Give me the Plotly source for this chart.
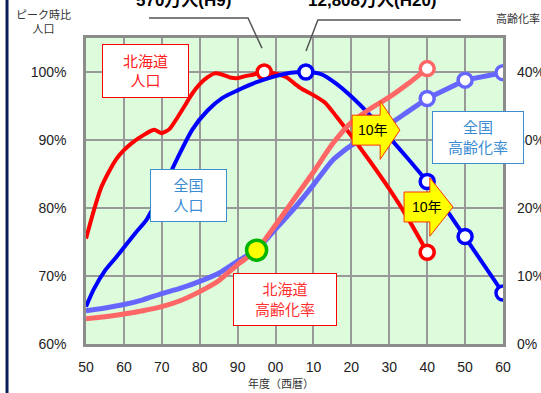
import plotly.graph_objects as go

# ---- data -------------------------------------------------------------
# Population relative to peak (%), Hokkaido
hk_pop_years = [1950, 1952, 1954, 1956, 1958, 1960, 1962, 1964, 1966, 1968,
                1970, 1972, 1974, 1976, 1978, 1980, 1982, 1984, 1986, 1988,
                1990, 1992, 1994, 1997, 1999, 2001, 2003, 2005, 2007, 2010,
                2013, 2016, 2020, 2025, 2030, 2035, 2040]
hk_pop = [75.5, 79.5, 83.0, 85.3, 87.2, 88.5, 89.5, 90.3, 91.0, 91.5,
          91.0, 91.6, 93.2, 95.0, 96.8, 98.2, 99.2, 99.8, 99.6, 99.2,
          99.1, 99.4, 99.6, 100.0, 99.9, 99.6, 99.2, 98.3, 97.5, 96.6,
          95.5, 93.5, 90.6, 86.8, 82.8, 78.4, 73.5]
hk_pop_marked = [1997, 2040]

# Population relative to peak (%), Japan
jp_pop_years = [1950, 1952, 1955, 1958, 1960, 1963, 1966, 1970, 1974, 1978,
                1982, 1986, 1990, 1995, 2000, 2004, 2008, 2012, 2016, 2020,
                2025, 2030, 2035, 2040, 2050, 2060]
jp_pop = [65.5, 68.0, 70.8, 72.8, 74.2, 76.3, 78.3, 82.5, 87.2, 91.5,
          94.3, 96.2, 97.3, 98.5, 99.4, 99.9, 100.0, 99.7, 98.3, 96.4,
          93.6, 90.4, 87.2, 83.9, 75.8, 67.5]
jp_pop_marked = [2008, 2040, 2050, 2060]

# Aging rate (%), Hokkaido
hk_age_years = [1950, 1955, 1960, 1965, 1970, 1975, 1980, 1985, 1990, 1995,
                2000, 2005, 2010, 2015, 2020, 2025, 2030, 2035, 2040]
hk_age = [3.7, 4.0, 4.4, 4.9, 5.5, 6.4, 7.7, 9.3, 11.7, 13.8,
          17.5, 21.4, 25.3, 29.4, 32.6, 34.6, 36.3, 38.3, 40.5]
hk_age_marked = [2040]
cross_year = 1995

# Aging rate (%), Japan
jp_age_years = [1950, 1955, 1960, 1965, 1970, 1975, 1980, 1985, 1990, 1995,
                2000, 2005, 2010, 2015, 2020, 2025, 2030, 2035, 2040, 2050,
                2060]
jp_age = [4.9, 5.3, 5.8, 6.5, 7.4, 8.2, 9.2, 10.4, 12.2, 13.9,
          16.9, 20.0, 23.4, 27.0, 29.2, 30.6, 32.3, 34.2, 36.1, 38.8,
          39.9]
jp_age_marked = [2040, 2050, 2060]

x_ticks = list(range(1950, 2061, 10))
x_labels = ["50", "60", "70", "80", "90", "00", "10", "20", "30", "40", "50", "60"]
pop_ticks = [60, 70, 80, 90, 100]
age_ticks = [0, 10, 20, 30, 40]

RED = "#FF0000"
BLUE = "#0000FF"
PINK = "#FF6666"
LILAC = "#6666FF"
FONT = "Liberation Sans, Arial, Noto Sans CJK JP"


def pick(years, values, wanted):
    xs = [y for y in years if y in wanted]
    ys = [v for y, v in zip(years, values) if y in wanted]
    return xs, ys


def split(years, values, at):
    a = [(y, v) for y, v in zip(years, values) if y <= at]
    b = [(y, v) for y, v in zip(years, values) if y >= at]
    return [p[0] for p in a], [p[1] for p in a], [p[0] for p in b], [p[1] for p in b]


fig = go.Figure()


def add_series(years, values, color, width, axis, marked, tail_from=None):
    if tail_from is not None:
        xa, ya, xb, yb = split(years, values, tail_from)
        fig.add_trace(go.Scatter(x=xa, y=ya, mode="lines", yaxis=axis,
                                 line=dict(color=color, width=width, shape="spline", smoothing=0.6),
                                 hoverinfo="skip", showlegend=False))
        fig.add_trace(go.Scatter(x=xb, y=yb, mode="lines", yaxis=axis,
                                 line=dict(color=color, width=width),
                                 hoverinfo="skip", showlegend=False))
    else:
        fig.add_trace(go.Scatter(x=years, y=values, mode="lines", yaxis=axis,
                                 line=dict(color=color, width=width, shape="spline", smoothing=0.6),
                                 hoverinfo="skip", showlegend=False))
    mx, my = pick(years, values, marked)
    fig.add_trace(go.Scatter(x=mx, y=my, mode="markers", yaxis=axis,
                             marker=dict(size=14, color="white", line=dict(color=color, width=3.5)),
                             hoverinfo="skip", showlegend=False))


add_series(hk_pop_years, hk_pop, RED, 4, "y", hk_pop_marked)
add_series(jp_pop_years, jp_pop, BLUE, 4, "y", jp_pop_marked, tail_from=2040)
add_series(jp_age_years, jp_age, LILAC, 5, "y2", jp_age_marked, tail_from=2040)
add_series(hk_age_years, hk_age, PINK, 5, "y2", hk_age_marked)

cx, cy = pick(hk_age_years, hk_age, [cross_year])
fig.add_trace(go.Scatter(x=cx, y=cy, mode="markers", yaxis="y2",
                         marker=dict(size=20, color="#FFFF00", line=dict(color="#00B400", width=3.5)),
                         hoverinfo="skip", showlegend=False))

# ---- "10年" block arrows ---------------------------------------------------
def arrow_path(x0, xh, xt, yc, body, head):
    return (f"M {x0} {yc + body} L {xh} {yc + body} L {xh} {yc + head} L {xt} {yc} "
            f"L {xh} {yc - head} L {xh} {yc - body} L {x0} {yc - body} Z")


for (x0, xh, xt, yc, tx) in [(2020.2, 2027.6, 2032.8, 91.45, 2025.7),
                             (2033.9, 2040.7, 2046.8, 80.15, 2039.9)]:
    fig.add_shape(type="path", xref="x", yref="y",
                  path=arrow_path(x0, xh, xt, yc, 2.2, 4.3),
                  fillcolor="#FFFF00", line=dict(color="#FF3300", width=1), layer="above")
    fig.add_annotation(x=tx, y=yc, xref="x", yref="y", text="10年", showarrow=False,
                       font=dict(size=14, color="black", family=FONT))

# ---- labelled boxes ----------------------------------------------------------
boxes = [
    ("北海道<br>人口", 1965.7, 100.1, 85, 52, RED, "#FF2020"),
    ("全国<br>人口", 1977.0, 81.8, 75, 51, "#3C8CD2", "#3C8CD2"),
    ("全国<br>高齢化率", 2053.4, 90.4, 90, 51, "#3C8CD2", "#3C8CD2"),
    ("北海道<br>高齢化率", 2002.4, 66.6, 102, 51, RED, "#FF3030"),
]
for text, bx, by, w, h, border, color in boxes:
    fig.add_annotation(x=bx, y=by, xref="x", yref="y", text=text, showarrow=False,
                       width=w, height=h, bgcolor="white", bordercolor=border,
                       borderwidth=1, borderpad=0, align="center", valign="middle",
                       font=dict(size=15, color=color, family=FONT))

# ---- peak callouts -----------------------------------------------------------
fig.add_annotation(x=0.233, y=1.085, xref="paper", yref="paper", text="<b>570万人(H9)</b>",
                   showarrow=False, xanchor="center", yanchor="bottom",
                   font=dict(size=17, color="black", family=FONT))
fig.add_annotation(x=0.688, y=1.085, xref="paper", yref="paper", text="<b>12,808万人(H20)</b>",
                   showarrow=False, xanchor="center", yanchor="bottom",
                   font=dict(size=17, color="black", family=FONT))
fig.add_shape(type="path", xref="paper", yref="paper",
              path="M 0.151 1.0654 L 0.3885 1.0654 L 0.422 0.967",
              line=dict(color="#555555", width=1.5))
fig.add_shape(type="path", xref="paper", yref="paper",
              path="M 0.899 1.0588 L 0.556 1.0588 L 0.5276 0.9575",
              line=dict(color="#555555", width=1.5))

# axis captions
fig.add_annotation(x=-0.101, y=1.003, xref="paper", yref="paper", text="ピーク時比<br>人口",
                   showarrow=False, xanchor="center", yanchor="bottom",
                   font=dict(size=11, color="#333333", family=FONT))
fig.add_annotation(x=1.0, y=1.036, xref="paper", yref="paper", text="高齢化率",
                   showarrow=False, xanchor="left", yanchor="bottom", xshift=-9,
                   font=dict(size=11, color="#333333", family=FONT))
fig.add_annotation(x=0.468, y=-0.1307, xref="paper", yref="paper", text="年度（西暦）",
                   showarrow=False, xanchor="center", yanchor="middle",
                   font=dict(size=11, color="#333333", family=FONT))

# navy rule along the left edge
fig.add_shape(type="line", xref="paper", yref="paper", x0=-0.1894, x1=-0.1894,
              y0=-0.2, y1=1.2, line=dict(color="#0A1E5A", width=3))

fig.update_layout(
    width=541, height=393,
    margin=dict(l=86, r=38, t=38, b=49, autoexpand=False),
    paper_bgcolor="white",
    plot_bgcolor="#DCFCDC",
    font=dict(family=FONT, size=14, color="#222222"),
    xaxis=dict(range=[1950, 2060], tickvals=x_ticks, ticktext=x_labels,
               showgrid=True, gridcolor="#999999", gridwidth=1.5,
               showline=True, linecolor="#8C8C8C", linewidth=2.5, mirror=True,
               ticks="", ticklabelstandoff=8, zeroline=False, automargin=False,
               tickfont=dict(size=14, color="#222222")),
    yaxis=dict(range=[60, 105], tickvals=pop_ticks, ticktext=[f"{v}%" for v in pop_ticks],
               showgrid=True, gridcolor="#999999", gridwidth=1.5,
               showline=True, linecolor="#8C8C8C", linewidth=2.5, mirror=True,
               ticks="", ticklabelstandoff=14, zeroline=False, automargin=False,
               tickfont=dict(size=14, color="#222222")),
    yaxis2=dict(range=[0, 45], tickvals=age_ticks, ticktext=[f"{v}%" for v in age_ticks],
                overlaying="y", side="right", showgrid=False, zeroline=False,
                ticks="", ticklabelstandoff=13, automargin=False,
                tickfont=dict(size=14, color="#222222")),
)

fig.write_html("out.html")
